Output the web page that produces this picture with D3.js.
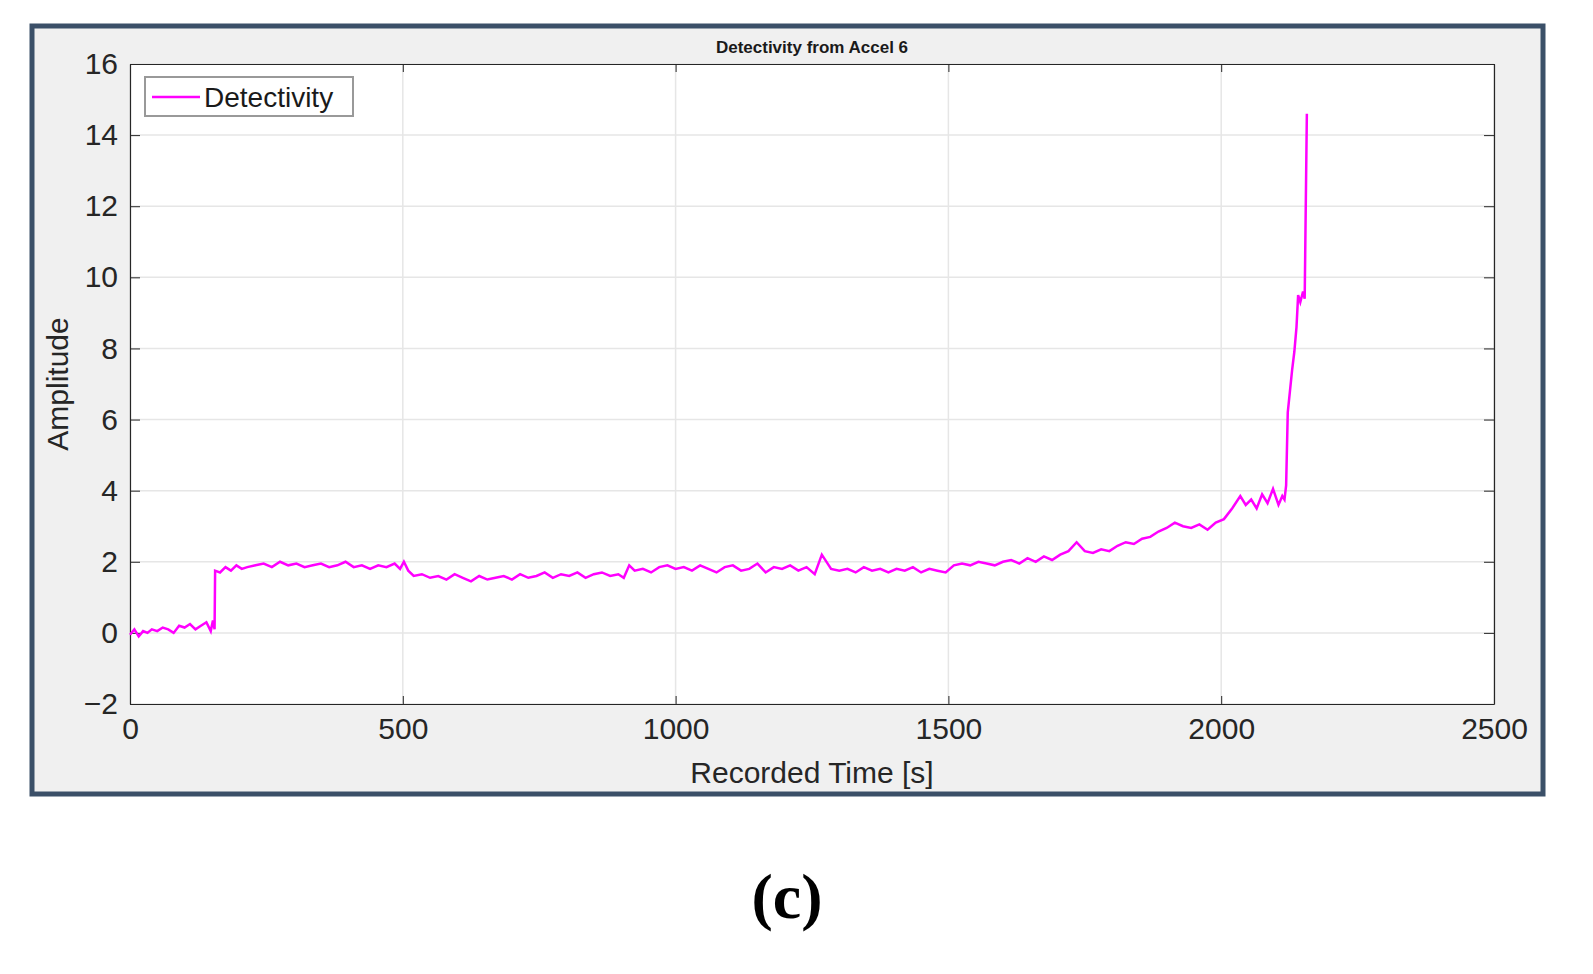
<!DOCTYPE html>
<html>
<head>
<meta charset="utf-8">
<script src="https://cdn.jsdelivr.net/npm/d3@7"></script>
<style>
  html, body { margin: 0; background: #fff; overflow: hidden; }
  svg { display: block; }
  svg text { font-family: Arial, "Liberation Sans", sans-serif; }
</style>
</head>
<body>
<svg id="chart" width="1593" height="974"></svg>
<script>
// time [s] and detectivity values (rows of 10)
var times = [
  0, 8, 16, 24, 32, 40, 50, 60, 70, 80,
  90, 100, 110, 120, 130, 140, 148, 152, 155, 156,
  165, 175, 185, 195, 205, 215, 230, 245, 260, 275,
  290, 305, 320, 335, 350, 365, 380, 395, 410, 425,
  440, 455, 470, 485, 495, 502, 510, 520, 535, 550,
  565, 580, 595, 610, 625, 640, 655, 670, 685, 700,
  715, 730, 745, 760, 775, 790, 805, 820, 835, 850,
  865, 880, 895, 905, 915, 925, 940, 955, 970, 985,
  1000, 1015, 1030, 1045, 1060, 1075, 1090, 1105, 1120, 1135,
  1150, 1165, 1180, 1195, 1210, 1225, 1240, 1255, 1268, 1285,
  1300, 1315, 1330, 1345, 1360, 1375, 1390, 1405, 1420, 1435,
  1450, 1465, 1480, 1495, 1510, 1525, 1540, 1555, 1570, 1585,
  1600, 1615, 1630, 1645, 1660, 1675, 1690, 1705, 1720, 1735,
  1750, 1765, 1780, 1795, 1810, 1825, 1840, 1855, 1870, 1885,
  1900, 1915, 1930, 1945, 1960, 1975, 1990, 2005, 2020, 2035,
  2045, 2055, 2065, 2075, 2085, 2095, 2105, 2112, 2116, 2119,
  2122, 2126, 2130, 2134, 2138, 2141, 2145, 2150, 2153, 2157
];
var values = [
  -0.05, 0.1, -0.1, 0.05, 0.0, 0.1, 0.05, 0.15, 0.1, 0.0,
  0.2, 0.15, 0.25, 0.1, 0.2, 0.3, 0.05, 0.35, 0.1, 1.75,
  1.7, 1.85, 1.75, 1.9, 1.8, 1.85, 1.9, 1.95, 1.85, 2.0,
  1.9, 1.95, 1.85, 1.9, 1.95, 1.85, 1.9, 2.0, 1.85, 1.9,
  1.8, 1.9, 1.85, 1.95, 1.8, 2.0, 1.75, 1.6, 1.65, 1.55,
  1.6, 1.5, 1.65, 1.55, 1.45, 1.6, 1.5, 1.55, 1.6, 1.5,
  1.65, 1.55, 1.6, 1.7, 1.55, 1.65, 1.6, 1.7, 1.55, 1.65,
  1.7, 1.6, 1.65, 1.55, 1.9, 1.75, 1.8, 1.7, 1.85, 1.9,
  1.8, 1.85, 1.75, 1.9, 1.8, 1.7, 1.85, 1.9, 1.75, 1.8,
  1.95, 1.7, 1.85, 1.8, 1.9, 1.75, 1.85, 1.65, 2.2, 1.8,
  1.75, 1.8, 1.7, 1.85, 1.75, 1.8, 1.7, 1.8, 1.75, 1.85,
  1.7, 1.8, 1.75, 1.7, 1.9, 1.95, 1.9, 2.0, 1.95, 1.9,
  2.0, 2.05, 1.95, 2.1, 2.0, 2.15, 2.05, 2.2, 2.3, 2.55,
  2.3, 2.25, 2.35, 2.3, 2.45, 2.55, 2.5, 2.65, 2.7, 2.85,
  2.95, 3.1, 3.0, 2.95, 3.05, 2.9, 3.1, 3.2, 3.5, 3.85,
  3.6, 3.75, 3.5, 3.9, 3.65, 4.05, 3.6, 3.85, 3.75, 4.15,
  6.2, 6.8, 7.4, 7.9, 8.6, 9.5, 9.3, 9.6, 9.4, 14.6
];

var yTicks = [-2, 0, 2, 4, 6, 8, 10, 12, 14, 16];
var xTicks = [0, 500, 1000, 1500, 2000, 2500];

var svg = d3.select("#chart");

// outer panel
svg.append("rect").attr("x", 32).attr("y", 26).attr("width", 1511).attr("height", 768)
  .attr("fill", "#f0f0f0").attr("stroke", "#3b5068").attr("stroke-width", 5);

var pLeft = 130, pRight = 1494, pTop = 64, pBottom = 704;
var x = d3.scaleLinear().domain([0, 2500]).range([pLeft, pRight]);
var y = d3.scaleLinear().domain([-2, 16]).range([pBottom, pTop]);

svg.append("rect").attr("x", pLeft).attr("y", pTop).attr("width", pRight - pLeft).attr("height", pBottom - pTop)
  .attr("fill", "#fff");

// grid
svg.append("g").selectAll("line").data(xTicks).enter().append("line")
  .attr("x1", d => x(d)).attr("x2", d => x(d)).attr("y1", pTop).attr("y2", pBottom)
  .attr("stroke", "#e6e6e6").attr("stroke-width", 1.5);
svg.append("g").selectAll("line").data(yTicks).enter().append("line")
  .attr("x1", pLeft).attr("x2", pRight).attr("y1", d => y(d)).attr("y2", d => y(d))
  .attr("stroke", "#e6e6e6").attr("stroke-width", 1.5);

// axes
var axisStyle = function(g) {
  g.selectAll("path").attr("stroke", "#262626").attr("stroke-width", 1.2);
  g.selectAll("line").attr("stroke", "#262626");
  g.selectAll("text").attr("fill", "#262626").style("font-size", "30px");
};
svg.append("g").attr("transform", "translate(0," + pBottom + ")")
  .call(d3.axisBottom(x).tickValues(xTicks).tickSize(-8).tickSizeOuter(0).tickPadding(14).tickFormat(d3.format("d")))
  .call(axisStyle);
svg.append("g").attr("transform", "translate(" + pLeft + ",0)")
  .call(d3.axisLeft(y).tickValues(yTicks).tickSize(-10).tickSizeOuter(0).tickPadding(12).tickFormat(d => d < 0 ? "\u2212" + Math.abs(d) : d))
  .call(axisStyle);
svg.append("g").attr("transform", "translate(0," + pTop + ")")
  .call(d3.axisTop(x).tickValues(xTicks).tickSize(-8).tickSizeOuter(0).tickFormat(""))
  .call(axisStyle);
svg.append("g").attr("transform", "translate(" + pRight + ",0)")
  .call(d3.axisRight(y).tickValues(yTicks).tickSize(-10).tickSizeOuter(0).tickFormat(""))
  .call(axisStyle);

// line
var pts = times.map((t, i) => [t, values[i]]);
svg.append("path").datum(pts)
  .attr("fill", "none").attr("stroke", "#ff00ff").attr("stroke-width", 2.5)
  .attr("d", d3.line().x(d => x(d[0])).y(d => y(d[1])));

// titles
svg.append("text").attr("x", (pLeft + pRight) / 2).attr("y", 53).attr("text-anchor", "middle")
  .style("font-size", "17px").style("font-weight", "bold").attr("fill", "#1a1a1a").text("Detectivity from Accel 6");
svg.append("text").attr("x", (pLeft + pRight) / 2).attr("y", 783).attr("text-anchor", "middle")
  .style("font-size", "30px").attr("fill", "#262626").text("Recorded Time [s]");
svg.append("text").attr("transform", "translate(68," + (pTop + pBottom) / 2 + ") rotate(-90)")
  .attr("text-anchor", "middle").style("font-size", "30px").attr("fill", "#262626").text("Amplitude");

// legend
svg.append("rect").attr("x", 145).attr("y", 77).attr("width", 208).attr("height", 39)
  .attr("fill", "#fff").attr("stroke", "#999").attr("stroke-width", 2);
svg.append("line").attr("x1", 152).attr("x2", 200).attr("y1", 97).attr("y2", 97)
  .attr("stroke", "#ff00ff").attr("stroke-width", 2.5);
svg.append("text").attr("x", 204).attr("y", 107).style("font-size", "28px").attr("fill", "#1a1a1a").text("Detectivity");

// caption
svg.append("text").attr("x", 787).attr("y", 918).attr("text-anchor", "middle")
  .style("font-family", "'Liberation Serif', serif").style("font-size", "64px").style("font-weight", "bold")
  .attr("fill", "#000").text("(c)");
</script>
</body>
</html>
